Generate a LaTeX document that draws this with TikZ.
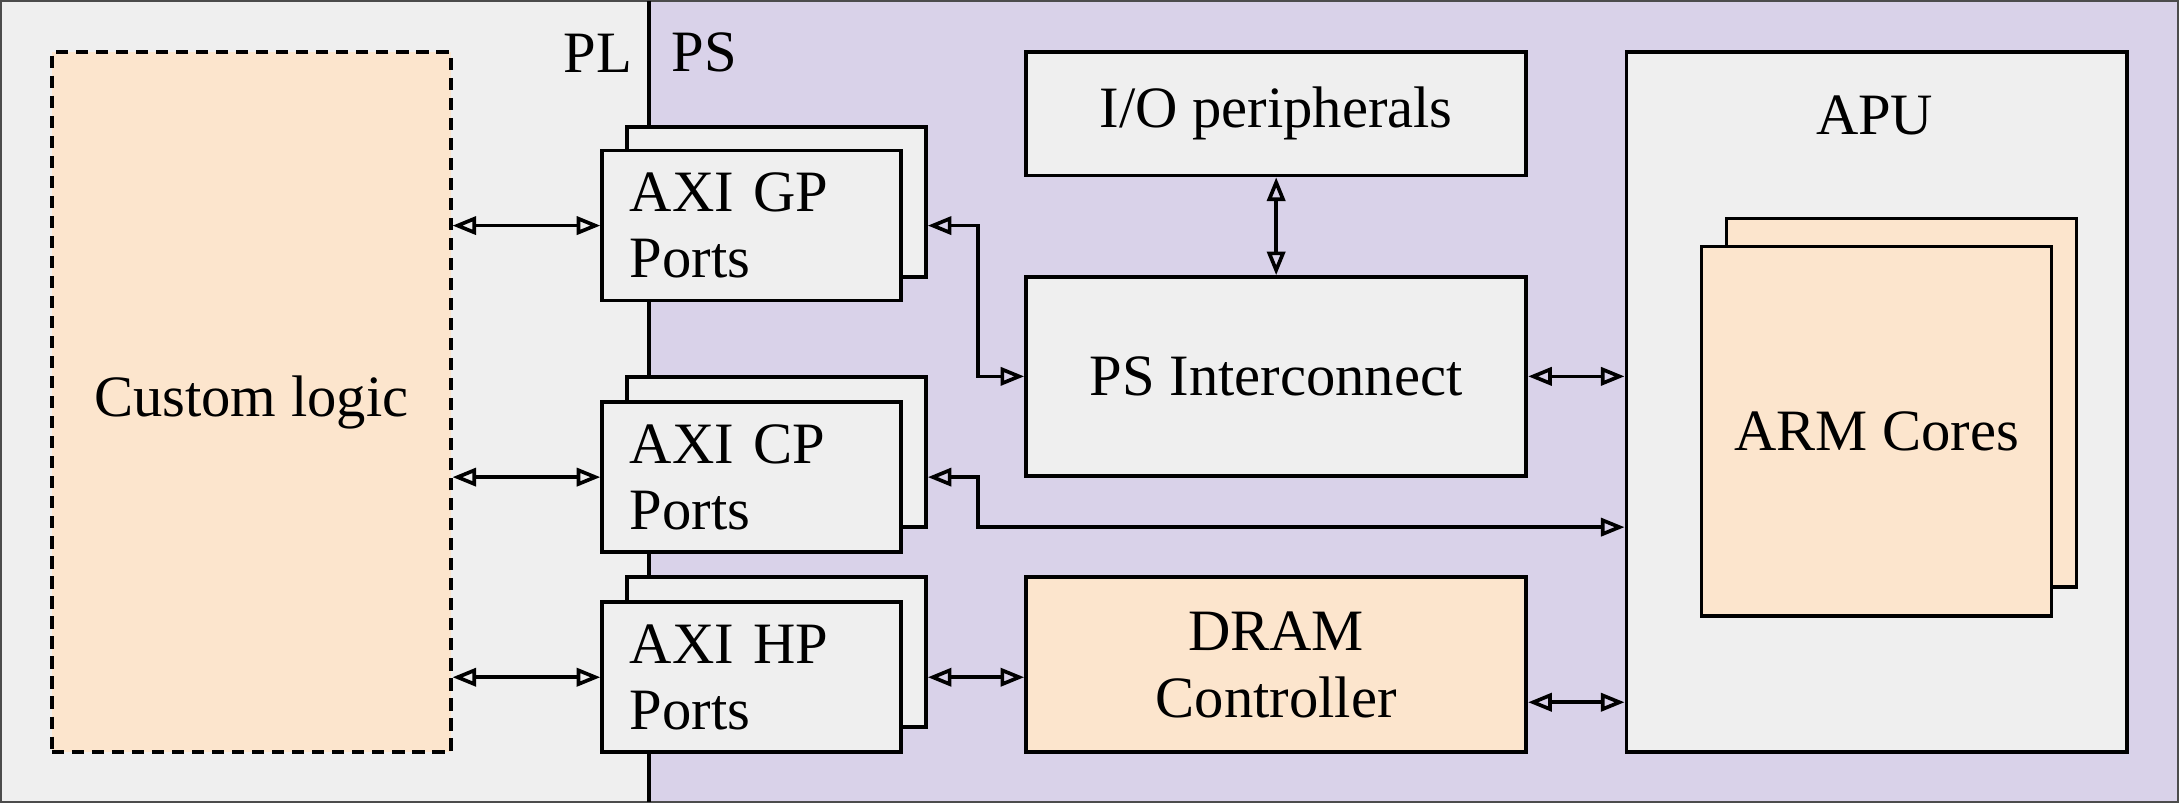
\documentclass[tikz,border=0pt]{standalone}
\usepackage{fontspec}
\setmainfont{Liberation Serif}
\usetikzlibrary{positioning,calc,arrows.meta}
\definecolor{plgray}{HTML}{EFEFEF}
\definecolor{pspurple}{HTML}{D9D2E9}
\definecolor{mypeach}{HTML}{FCE5CD}

\begin{document}
\begin{tikzpicture}[line width=0.75pt,
  font=\fontsize{12}{13.6}\selectfont,
  block/.style={draw,fill=plgray,anchor=north west,inner sep=0pt},
  portbox/.style={block,minimum width=2.15cm,minimum height=1.08cm},
  portnode/.style={portbox,text width=1.75cm,align=left,inner xsep=0.2cm},
  psnode/.style={block,minimum width=3.6cm,align=center},
  link/.style={<->,>={Triangle[open,length=1.7mm,width=1.3mm]}}
]
\useasboundingbox (0,0) rectangle (15.68,-5.79);

% the two halves, PL and PS
\fill[plgray] (0.01,-0.01) rectangle (4.67,-5.77);
\fill[pspurple] (4.67,-0.01) rectangle (15.67,-5.77);
\draw[black!70,thin] (0.01,-0.01) rectangle (15.67,-5.77);
\draw (4.67,-0.01) -- (4.67,-5.77);
\node[anchor=east,inner sep=0pt] (pl) at (4.56,-0.38) {PL};
\node[anchor=west,inner sep=0pt] (ps) at (4.82,-0.38) {PS};

% the custom logic
\node[block,fill=mypeach,dash pattern=on 2.5pt off 1.6pt,
  minimum width=2.87cm,minimum height=5.04cm] (logic) at (0.36,-0.36) {Custom logic};

% the AXI ports
\node[portbox] (gpb) at (4.50,-0.90) {};
\node[portnode] (gp) at (4.32,-1.07) {AXI GP\\Ports};
\node[portbox] (cpb) at (4.50,-2.70) {};
\node[portnode] (cp) at (4.32,-2.88) {AXI CP\\Ports};
\node[portbox] (hpb) at (4.50,-4.14) {};
\node[portnode] (hp) at (4.32,-4.32) {AXI HP\\Ports};

% the PS blocks
\node[psnode,minimum height=0.89cm] (io) at (7.37,-0.36) {I/O peripherals};
\node[psnode,minimum height=1.43cm] (ic) at (7.37,-1.98) {PS Interconnect};
\node[psnode,fill=mypeach,minimum height=1.26cm] (dram) at (7.37,-4.14) {DRAM\\Controller};

% the APU
\node[block,minimum width=3.6cm,minimum height=5.04cm] (apu) at (11.69,-0.36) {};
\node (apulabel) at (13.49,-0.83) {APU};
\node[block,fill=mypeach,minimum width=2.52cm,minimum height=2.65cm] (armb) at (12.41,-1.56) {};
\node[block,fill=mypeach,minimum width=2.52cm,minimum height=2.66cm] (arm) at (12.23,-1.76) {ARM Cores};

% the edges
\draw[link] (logic.east |- gp.west) -- (gp.west);
\draw[link] (logic.east |- cp.west) -- (cp.west);
\draw[link] (logic.east |- hp.west) -- (hp.west);
\draw[link] (io.south) -- (ic.north);
\draw[link] (gpb.east |- gp.west) -- ++(0.36,0) |- (ic.west);
\draw[link] (ic.east) -- (apu.west |- ic.east);
\draw[link] (cpb.east |- cp.west) -- ++(0.36,0) |- ([yshift=-0.36cm]cp.west -| apu.west);
\draw[link] (hpb.east |- hp.west) -- (dram.west |- hp.west);
\draw[link] ([yshift=-0.27cm]dram.east) -- ([yshift=-0.27cm]dram.east -| apu.west);
\end{tikzpicture}
\end{document}
